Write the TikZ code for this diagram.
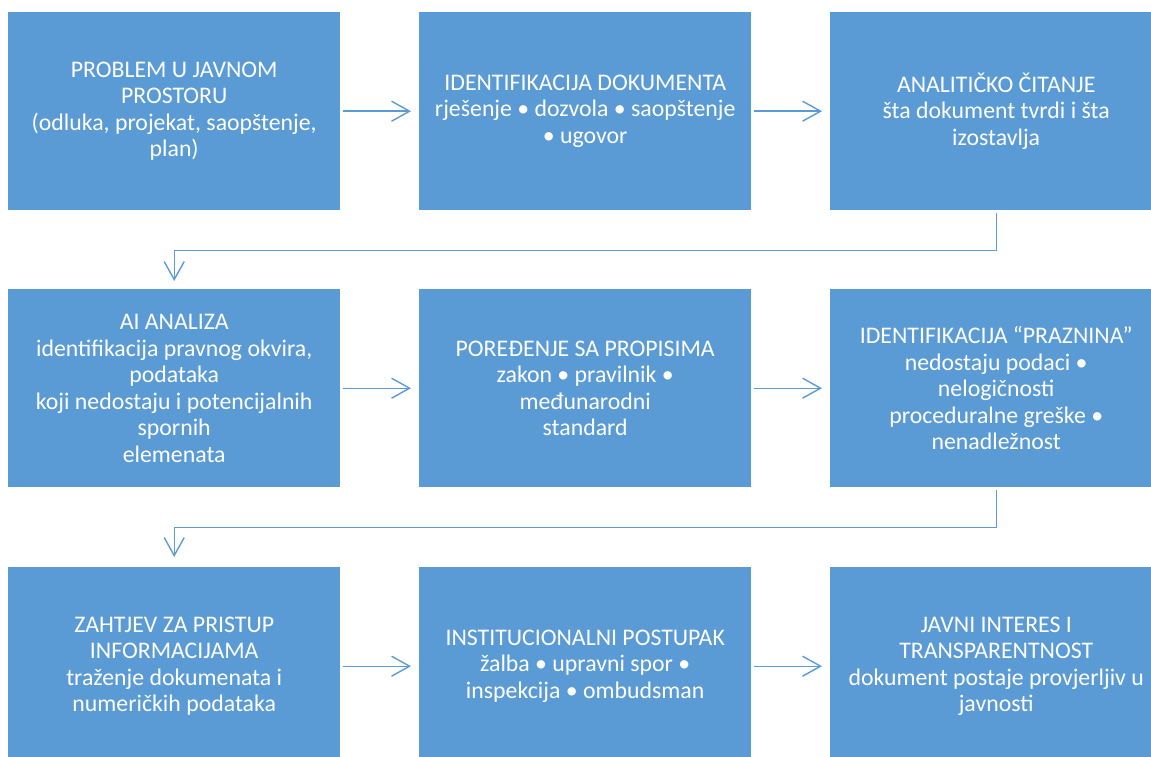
\documentclass[tikz,border=0pt]{standalone}
\usepackage{fontspec}
\setmainfont{Carlito}
\usetikzlibrary{arrows.meta}
\definecolor{boxblue}{HTML}{5B9BD5}
\definecolor{lineblue}{HTML}{5B9BD5}
\tikzset{
  stepbox/.style={rectangle, fill=boxblue, draw=none, minimum width=332pt, minimum height=198pt,
    inner sep=0pt, align=center, text=white, font=\fontsize{23.8}{26.5}\selectfont, anchor=north west},
  conn/.style={draw=lineblue, line width=1.4pt, -{Straight Barb[length=18pt,width=20pt,line width=1.4pt]}}
}
\begin{document}
\begin{tikzpicture}[x=1pt,y=-1pt]
\useasboundingbox (0,0) rectangle (1151,757);
\node[stepbox] (n1) at (8,12) {PROBLEM U JAVNOM\\PROSTORU\\(odluka, projekat, saopštenje,\\plan)};
\node[stepbox] (n2) at (419,12) {IDENTIFIKACIJA DOKUMENTA\\rješenje • dozvola • saopštenje\\• ugovor};
\node[stepbox] (n3) at (830,12) {ANALITIČKO ČITANJE\\šta dokument tvrdi i šta\\izostavlja};
\node[stepbox] (n4) at (8,289) {AI ANALIZA\\identifikacija pravnog okvira,\\podataka\\koji nedostaju i potencijalnih\\spornih\\elemenata};
\node[stepbox] (n5) at (419,289) {POREĐENJE SA PROPISIMA\\zakon • pravilnik •\\međunarodni\\standard};
\node[stepbox] (n6) at (830,289) {IDENTIFIKACIJA “PRAZNINA”\\nedostaju podaci •\\nelogičnosti\\proceduralne greške •\\nenadležnost};
\node[stepbox] (n7) at (8,567) {ZAHTJEV ZA PRISTUP\\INFORMACIJAMA\\traženje dokumenata i\\numeričkih podataka};
\node[stepbox] (n8) at (419,567) {INSTITUCIONALNI POSTUPAK\\žalba • upravni spor •\\inspekcija • ombudsman};
\node[stepbox] (n9) at (830,567) {JAVNI INTERES I\\TRANSPARENTNOST\\dokument postaje provjerljiv u\\javnosti};
\draw[conn, shorten <=3pt, shorten >=8pt] (n1) -- (n2);
\draw[conn, shorten <=3pt, shorten >=8pt] (n2) -- (n3);
\draw[conn, shorten <=3pt, shorten >=8pt] (n4) -- (n5);
\draw[conn, shorten <=3pt, shorten >=8pt] (n5) -- (n6);
\draw[conn, shorten <=3pt, shorten >=8pt] (n7) -- (n8);
\draw[conn, shorten <=3pt, shorten >=8pt] (n8) -- (n9);
\draw[conn, shorten <=3pt, shorten >=8pt] (n3.south) -- ++(0,40) -| (n4.north);
\draw[conn, shorten <=3pt, shorten >=10pt] (n6.south) -- ++(0,40) -| (n7.north);
\end{tikzpicture}
\end{document}
